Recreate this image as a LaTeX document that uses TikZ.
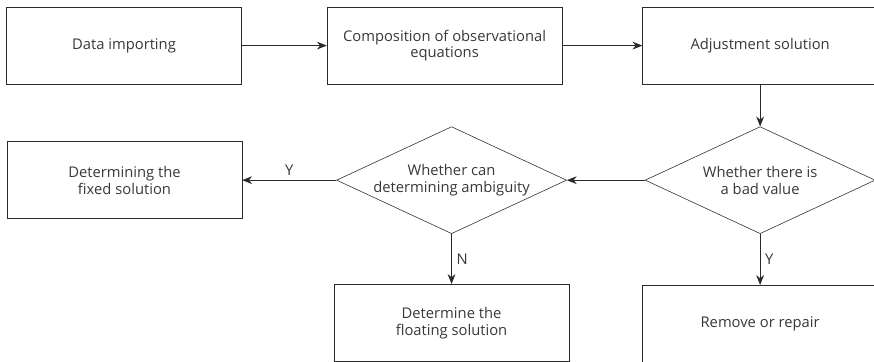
\documentclass[tikz,border=0pt]{standalone}
\usepackage{fontspec}
\setmainfont{Open Sans}
\usetikzlibrary{shapes.geometric,positioning,arrows.meta}
\definecolor{inkgray}{HTML}{2A2A2A}
\definecolor{textgray}{HTML}{383838}
\tikzset{
->,
>={Stealth[length=7pt,width=5.5pt]},
line width=0.9pt,
node distance=2cm,
every node/.style={font=\fontsize{10.5}{12}\selectfont, text=textgray},
process/.style={rectangle, draw=inkgray, minimum width=5.875cm, minimum height=1.925cm, align=center},
decision/.style={diamond, draw=inkgray, aspect=2.15, minimum width=5.75cm, minimum height=2.675cm, inner sep=0pt, align=center},
}

\begin{document}
\begin{tikzpicture}[color=inkgray]
    \useasboundingbox (0,0) rectangle (21.85,-9.025);

    \node[process] (imp) at (3.1,-1.14) {Data importing};
    \node[process,right=2.125cm of imp] (comp) {Composition of observational\\equations};
    \node[process,right=2cm of comp] (adj) {Adjustment solution};
    \node[decision,below=1.05cm of adj] (bad) {Whether there is\\a bad value};
    \node[decision,left=1.95cm of bad] (amb) {Whether can\\determining ambiguity};
    \node[process,left=2.35cm of amb] (fixed) {Determining the\\fixed solution};
    \node[process,below=1.25cm of amb] (float) {Determine the\\floating solution};
    \node[process,below=1.275cm of bad] (rem) {Remove or repair};

    \draw (imp) edge (comp);
    \draw (comp) edge (adj);
    \draw (adj) edge (bad);
    \draw (bad) edge (amb);
    \draw (amb) edge[above=5pt] node{Y} (fixed);
    \draw (amb) edge[right=5pt] node{N} (float);
    \draw (bad) edge[right=5pt] node{Y} (rem);

\end{tikzpicture}
\end{document}
